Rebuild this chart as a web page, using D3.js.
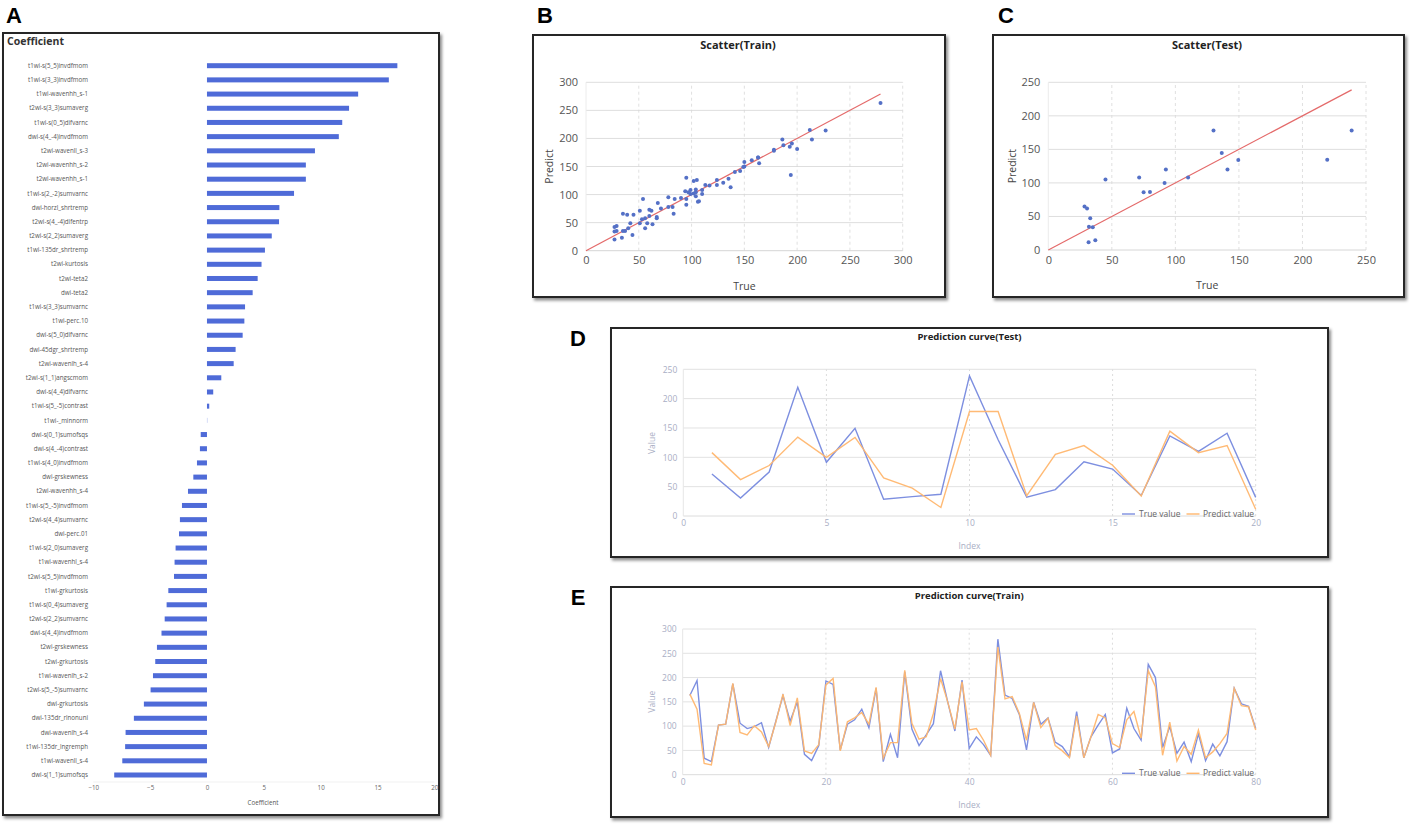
<!DOCTYPE html>
<html>
<head>
<meta charset="utf-8">
<script src="https://cdn.jsdelivr.net/npm/d3@7"></script>
<style>
  html, body { margin: 0; padding: 0; background: #fff; }
  svg { display: block; font-family: "Open Sans", "Noto Sans", sans-serif; }
</style>
</head>
<body>
<script>
// ---------------- DATA ----------------
const featureNames = [
  "t1wi-s(5_5)invdfmom","t1wi-s(3_3)invdfmom","t1wi-wavenhh_s-1","t2wi-s(3_3)sumaverg","t1wi-s(0_5)difvarnc",
  "dwi-s(4_-4)invdfmom","t2wi-wavenll_s-3","t2wi-wavenhh_s-2","t2wi-wavenhh_s-1","t1wi-s(2_-2)sumvarnc",
  "dwi-horzl_shrtremp","t2wi-s(4_-4)difentrp","t2wi-s(2_2)sumaverg","t1wi-135dr_shrtremp","t2wi-kurtosis",
  "t2wi-teta2","dwi-teta2","t1wi-s(3_3)sumvarnc","t1wi-perc.10","dwi-s(5_0)difvarnc",
  "dwi-45dgr_shrtremp","t2wi-wavenlh_s-4","t2wi-s(1_1)angscmom","dwi-s(4_4)difvarnc","t1wi-s(5_-5)contrast",
  "t1wi-_minnorm","dwi-s(0_1)sumofsqs","dwi-s(4_-4)contrast","t1wi-s(4_0)invdfmom","dwi-grskewness",
  "t2wi-wavenhh_s-4","t1wi-s(5_-5)invdfmom","t2wi-s(4_4)sumvarnc","dwi-perc.01","t1wi-s(2_0)sumaverg",
  "t1wi-wavenhl_s-4","t2wi-s(5_5)invdfmom","t1wi-grkurtosis","t1wi-s(0_4)sumaverg","t2wi-s(2_2)sumvarnc",
  "dwi-s(4_4)invdfmom","t2wi-grskewness","t2wi-grkurtosis","t1wi-wavenlh_s-2","t2wi-s(5_-5)sumvarnc",
  "dwi-grkurtosis","dwi-135dr_rlnonuni","dwi-wavenlh_s-4","t1wi-135dr_lngremph","t1wi-wavenll_s-4",
  "dwi-s(1_1)sumofsqs"
];
const coefValues = [
  16.75, 16.0, 13.3, 12.5, 11.9,
  11.6, 9.5, 8.7, 8.7, 7.66,
  6.37, 6.34, 5.7, 5.1, 4.8,
  4.46, 4.02, 3.35, 3.29, 3.14,
  2.52, 2.35, 1.26, 0.55, 0.2,
  0.02, -0.55, -0.62, -0.88, -1.2,
  -1.67, -2.2, -2.38, -2.46, -2.76,
  -2.85, -2.9, -3.4, -3.55, -3.72,
  -4.0, -4.4, -4.55, -4.75, -4.96,
  -5.55, -6.43, -7.16, -7.2, -7.45,
  -8.16
];
const coefTicks = [-10, -5, 0, 5, 10, 15, 20];

const trainTrue = [163,194,34,27,102,104,187,106,95,99,107,56,110,163,110,150,42,29,60,193,
  186,51,104,113,135,97,178,27,83,35,212,94,60,82,105,214,150,90,195,54,
  78,62,40,279,164,157,124,51,149,104,117,67,58,37,130,35,78,102,124,45,
  53,137,95,71,227,200,56,99,44,67,27,84,29,63,39,68,178,146,141,95];
const trainPred = [166,135,23,20,102,104,188,87,82,101,88,58,108,166,101,158,49,44,62,185,
  198,49,109,117,128,104,180,34,66,66,215,106,73,78,126,198,150,94,191,92,
  95,71,40,263,156,161,126,71,149,97,116,60,49,35,121,35,78,124,117,64,
  56,113,130,75,214,181,40,108,28,58,42,92,35,47,64,85,178,142,140,92];

const testTrue = [71.5,30.5,75,219.5,91.5,149.5,28.5,33,37,238.7,130,32,45,92.5,80,35,136.5,110,141,31.7];
const testPred = [108,62,86,134.5,100,134,65,47.5,14.5,178,178,34.5,105,120,86.5,34,144.5,108,120,11.5];

const trainScatterTicks = [0,50,100,150,200,250,300];
const testScatterTicks = [0,50,100,150,200,250];
const testIndexTicks = [0,5,10,15,20];
const trainIndexTicks = [0,20,40,60,80];

// ---------------- SETUP ----------------
const W = 1418, H = 826;
const svg = d3.select("body").append("svg").attr("width", W).attr("height", H);
const defs = svg.append("defs");
const f = defs.append("filter").attr("id","sh").attr("x","-5%").attr("y","-5%").attr("width","112%").attr("height","112%");
f.append("feDropShadow").attr("dx",2).attr("dy",2.5).attr("stdDeviation",1.6).attr("flood-color","#000").attr("flood-opacity",0.45);

const BLUE = "#5470c6", LBLUE = "#7d8fe0", ORANGE = "#ffb66e", RED = "#e46a6a";
const AXC = "#a9aec4";

function box(x0,y0,x1,y1){
  svg.append("rect").attr("x",x0).attr("y",y0).attr("width",x1-x0).attr("height",y1-y0)
    .attr("fill","#fff").attr("stroke","#262626").attr("stroke-width",2).attr("filter","url(#sh)");
}
function letter(t,x,y){
  svg.append("text").attr("x",x).attr("y",y).attr("text-anchor","middle")
    .attr("font-family","'Liberation Sans', Arial, sans-serif").attr("font-weight","bold")
    .attr("font-size",22).attr("fill","#000").text(t);
}

// ---------------- PANEL A ----------------
box(3,33,439,815);
letter("A",14,23);
const gA = svg.append("g");
gA.append("text").attr("x",7).attr("y",45).attr("font-size",10.5).attr("font-weight","bold").attr("fill","#333").text("Coefficient");
const xA = d3.scaleLinear().domain([-10,20]).range([93.3,434.3]);
const yA = d3.scalePoint().domain(featureNames).range([65.7,775]);
gA.append("line").attr("x1",xA(-10)).attr("x2",xA(20)).attr("y1",782).attr("y2",782).attr("stroke","#eee").attr("stroke-width",0.8);
gA.selectAll("rect.bar").data(featureNames).join("rect").attr("class","bar")
  .attr("x",(d,i)=>xA(Math.min(0,coefValues[i])))
  .attr("y",d=>yA(d)-2.5)
  .attr("width",(d,i)=>Math.abs(xA(coefValues[i])-xA(0)))
  .attr("height",5).attr("fill","#4f6bd8");
gA.selectAll("text.lab").data(featureNames).join("text").attr("class","lab")
  .attr("x",88).attr("y",d=>yA(d)).attr("dy","0.35em").attr("text-anchor","end")
  .attr("font-size",6.2).attr("fill","#555").text(d=>d);
const axA = gA.append("g").attr("transform","translate(0,782)")
  .call(d3.axisBottom(xA).tickValues(coefTicks).tickSize(0).tickPadding(4).tickFormat(d3.format("d")));
axA.select(".domain").remove();
axA.selectAll("text").attr("font-size",6.2).attr("fill","#666").attr("font-family","'Open Sans', sans-serif");
gA.append("text").attr("x",263).attr("y",805).attr("text-anchor","middle").attr("font-size",6.2).attr("fill","#555").text("Coefficient");

// ---------------- SCATTER ----------------
function scatter(opts){
  const {x0,y0,x1,y1,xr,yr,ticks,dom,tru,pred,title,titleX,predictX,trueY} = opts;
  box(x0,y0,x1,y1);
  const g = svg.append("g");
  const x = d3.scaleLinear().domain(dom).range(xr);
  const y = d3.scaleLinear().domain(dom).range(yr);
  g.append("text").attr("x",titleX).attr("y",49).attr("text-anchor","middle").attr("font-size",11)
    .attr("font-weight","bold").attr("fill","#222").text(title);
  // grid
  g.selectAll("line.hg").data(ticks.slice(1)).join("line").attr("class","hg")
    .attr("x1",xr[0]).attr("x2",xr[1]).attr("y1",d=>y(d)).attr("y2",d=>y(d)).attr("stroke","#dedede").attr("stroke-width",1);
  g.selectAll("line.vg").data(ticks.slice(1)).join("line").attr("class","vg")
    .attr("y1",yr[0]).attr("y2",yr[1]).attr("x1",d=>x(d)).attr("x2",d=>x(d)).attr("stroke","#d8d8d8").attr("stroke-dasharray","3,3").attr("stroke-width",0.8);
  g.append("line").attr("x1",xr[0]).attr("x2",xr[1]).attr("y1",yr[0]).attr("y2",yr[0]).attr("stroke","#d6d6d6");
  g.append("line").attr("x1",xr[0]).attr("x2",xr[0]).attr("y1",yr[0]).attr("y2",yr[1]).attr("stroke","#ececec");
  const ay = g.append("g").attr("transform",`translate(${xr[0]},0)`).call(d3.axisLeft(y).tickValues(ticks).tickSize(0).tickPadding(8));
  ay.select(".domain").remove();
  ay.selectAll("text").attr("font-size",11).attr("fill","#555").attr("font-family","'Open Sans', sans-serif");
  const ax = g.append("g").attr("transform",`translate(0,${yr[0]})`).call(d3.axisBottom(x).tickValues(ticks).tickSize(0).tickPadding(6));
  ax.select(".domain").remove();
  ax.selectAll("text").attr("font-size",11).attr("fill","#555").attr("font-family","'Open Sans', sans-serif");
  const mx = d3.max(tru);
  g.append("line").attr("x1",x(0)).attr("y1",y(0)).attr("x2",x(mx)).attr("y2",y(mx)).attr("stroke",RED).attr("stroke-width",1.2);
  g.selectAll("circle").data(tru).join("circle").attr("cx",d=>x(d)).attr("cy",(d,i)=>y(pred[i])).attr("r",2).attr("fill",BLUE);
  g.append("text").attr("transform",`translate(${predictX},${(yr[0]+yr[1])/2}) rotate(-90)`).attr("text-anchor","middle")
    .attr("dy","0.35em").attr("font-size",10.5).attr("fill","#444").text("Predict");
  g.append("text").attr("x",(xr[0]+xr[1])/2).attr("y",trueY).attr("text-anchor","middle").attr("font-size",10.5).attr("fill","#444").text("True");
}
letter("B",545,23);
scatter({x0:533,y0:35,x1:945,y1:297,xr:[586,902.7],yr:[250.7,82.3],ticks:trainScatterTicks,dom:[0,300],
  tru:trainTrue,pred:trainPred,title:"Scatter(Train)",titleX:738,predictX:549,trueY:290});
letter("C",1006,23);
scatter({x0:993,y0:35,x1:1404,y1:297,xr:[1048.3,1366],yr:[250,82.3],ticks:testScatterTicks,dom:[0,250],
  tru:testTrue,pred:testPred,title:"Scatter(Test)",titleX:1207,predictX:1012,trueY:289});

// ---------------- LINE CHARTS ----------------
function curve(opts){
  const {x0,y0,x1,y1,xr,yr,xdom,ydom,xticks,yticks,tru,pred,title,titleY,valueY,indexY,legendY} = opts;
  box(x0,y0,x1,y1);
  const g = svg.append("g");
  const x = d3.scaleLinear().domain(xdom).range(xr);
  const y = d3.scaleLinear().domain(ydom).range(yr);
  g.append("text").attr("x",(xr[0]+xr[1])/2).attr("y",titleY).attr("text-anchor","middle").attr("font-size",9.5)
    .attr("font-weight","bold").attr("fill","#222").text(title);
  g.selectAll("line.hg").data(yticks.slice(1)).join("line").attr("class","hg")
    .attr("x1",xr[0]).attr("x2",xr[1]).attr("y1",d=>y(d)).attr("y2",d=>y(d)).attr("stroke","#e2e2e2");
  g.selectAll("line.vg").data(xticks.slice(1)).join("line").attr("class","vg")
    .attr("y1",yr[0]).attr("y2",yr[1]).attr("x1",d=>x(d)).attr("x2",d=>x(d)).attr("stroke","#dcdcdc").attr("stroke-dasharray","2,3");
  g.append("line").attr("x1",xr[0]).attr("x2",xr[1]).attr("y1",yr[0]).attr("y2",yr[0]).attr("stroke","#dcdcdc");
  g.append("line").attr("x1",xr[0]).attr("x2",xr[0]).attr("y1",yr[0]).attr("y2",yr[1]).attr("stroke","#e6e6e6");
  const ay = g.append("g").attr("transform",`translate(${xr[0]},0)`).call(d3.axisLeft(y).tickValues(yticks).tickSize(0).tickPadding(6));
  ay.select(".domain").remove();
  ay.selectAll("text").attr("font-size",8.5).attr("fill",AXC).attr("font-family","'Open Sans', sans-serif");
  const ax = g.append("g").attr("transform",`translate(0,${yr[0]})`).call(d3.axisBottom(x).tickValues(xticks).tickSize(0).tickPadding(4));
  ax.select(".domain").remove();
  ax.selectAll("text").attr("font-size",8.5).attr("fill",AXC).attr("font-family","'Open Sans', sans-serif");
  const line = d3.line().x((d,i)=>x(i+1)).y(d=>y(d));
  g.append("path").datum(tru).attr("d",line).attr("fill","none").attr("stroke",LBLUE).attr("stroke-width",1.4);
  g.append("path").datum(pred).attr("d",line).attr("fill","none").attr("stroke",ORANGE).attr("stroke-width",1.4).attr("stroke-opacity",0.95);
  g.append("text").attr("transform",`translate(651.7,${valueY}) rotate(-90)`).attr("text-anchor","middle").attr("dy","0.35em")
    .attr("font-size",8.5).attr("fill",AXC).text("Value");
  g.append("text").attr("x",(xr[0]+xr[1])/2).attr("y",indexY).attr("text-anchor","middle").attr("dy","0.35em")
    .attr("font-size",8.5).attr("fill",AXC).text("Index");
  // legend
  const lg = g.append("g");
  lg.append("line").attr("x1",1122).attr("x2",1135).attr("y1",legendY).attr("y2",legendY).attr("stroke",LBLUE).attr("stroke-width",1.4);
  lg.append("text").attr("x",1139).attr("y",legendY).attr("dy","0.35em").attr("font-size",8.5).attr("fill","#666").text("True value");
  lg.append("line").attr("x1",1186.5).attr("x2",1199.5).attr("y1",legendY).attr("y2",legendY).attr("stroke",ORANGE).attr("stroke-width",1.4);
  lg.append("text").attr("x",1203).attr("y",legendY).attr("dy","0.35em").attr("font-size",8.5).attr("fill","#666").text("Predict value");
}
letter("D",578,346);
curve({x0:611,y0:328,x1:1328,y1:557,xr:[683.3,1255.7],yr:[516,369.3],xdom:[0,20],ydom:[0,250],
  xticks:testIndexTicks,yticks:[0,50,100,150,200,250],tru:testTrue,pred:testPred,
  title:"Prediction curve(Test)",titleY:340,valueY:443,indexY:546,legendY:514});
letter("E",578,605);
curve({x0:611,y0:587,x1:1328,y1:817,xr:[682.7,1255.7],yr:[774.7,629],xdom:[0,80],ydom:[0,300],
  xticks:trainIndexTicks,yticks:[0,50,100,150,200,250,300],tru:trainTrue,pred:trainPred,
  title:"Prediction curve(Train)",titleY:599,valueY:701.7,indexY:805,legendY:773.3});
</script>
</body>
</html>
